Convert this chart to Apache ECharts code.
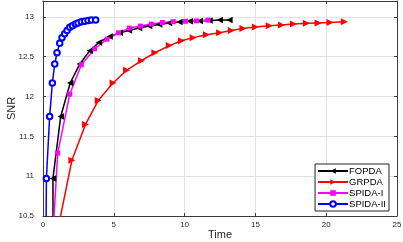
<!DOCTYPE html>
<html><head><meta charset="utf-8">
<script src="https://cdn.jsdelivr.net/npm/echarts@6/dist/echarts.min.js"></script>
<style>html,body{margin:0;padding:0;background:#fff}#c{width:403px;height:242px}</style>
</head><body><div id="c"></div>
<script>
const seriesNames = ['FOPDA', 'GRPDA', 'SPIDA-I', 'SPIDA-II'];
const xTicks = [0, 5, 10, 15, 20, 25];
const yTicks = [10.5, 11, 11.5, 12, 12.5, 13];

const fopdaX = [0.72, 0.70, 1.25, 1.92, 2.60, 3.30, 3.95, 4.70, 5.42, 6.07, 6.78, 7.49, 8.20, 8.90, 9.63, 10.36, 11.07, 11.76, 12.48, 13.16];
const fopdaY = [9.5, 10.97, 11.75, 12.17, 12.41, 12.575, 12.68, 12.755, 12.80, 12.83, 12.86, 12.885, 12.905, 12.925, 12.935, 12.945, 12.95, 12.955, 12.96, 12.96];

const grpdaX = [0.9, 2.04, 3.0, 3.9, 4.95, 5.9, 6.95, 7.9, 8.92, 9.78, 10.6, 11.54, 12.47, 13.3, 14.12, 15.0, 15.98, 16.84, 17.68, 18.6, 19.43, 20.27, 21.28];
const grpdaY = [10.2, 11.2, 11.65, 11.95, 12.17, 12.33, 12.45, 12.55, 12.64, 12.70, 12.74, 12.775, 12.80, 12.83, 12.855, 12.875, 12.89, 12.90, 12.91, 12.92, 12.925, 12.93, 12.94];

const spida1X = [0.45, 1.04, 1.89, 2.71, 3.65, 4.52, 5.33, 6.09, 6.88, 7.65, 8.43, 9.2, 10.06, 10.84, 11.65];
const spida1Y = [9.5, 11.29, 12.03, 12.40, 12.60, 12.72, 12.80, 12.86, 12.885, 12.91, 12.93, 12.94, 12.945, 12.95, 12.96];

const spida2X = [0.18, 0.24, 0.47, 0.66, 0.83, 0.99, 1.18, 1.34, 1.53, 1.70, 1.89, 2.08, 2.29, 2.47, 2.71, 2.94, 3.18, 3.42, 3.72];
const spida2Y = [9.5, 10.97, 11.75, 12.17, 12.41, 12.55, 12.67, 12.74, 12.79, 12.83, 12.87, 12.89, 12.91, 12.925, 12.94, 12.946, 12.955, 12.96, 12.96];

const zip = (xs, ys) => xs.map((x, i) => [x, ys[i]]);
const font = 'Liberation Sans, Arial, sans-serif';
const axisCol = '#3a3a3a';

const chart = echarts.init(document.getElementById('c'), null, {renderer: 'canvas'});
const baseAxis = {
  axisLine: {show: true, onZero: false, lineStyle: {color: axisCol, width: 1}},
  axisTick: {show: true, inside: true, length: 3, lineStyle: {color: axisCol}},
  splitLine: {show: false}
};
chart.setOption({
  animation: false,
  grid: {left: 43, right: 6, top: 1, bottom: 26, containLabel: false, outerBoundsMode: 'none'},
  xAxis: [
    Object.assign({}, baseAxis, {
      type: 'value', min: xTicks[0], max: xTicks[xTicks.length - 1], interval: 5,
      name: 'Time', nameLocation: 'middle', nameGap: 13, nameMoveOverlap: false,
      nameTextStyle: {fontFamily: font, fontSize: 11, color: '#262626'},
      axisLabel: {fontFamily: font, fontSize: 8, color: '#262626', margin: 5},
      splitLine: {show: true, lineStyle: {color: '#e3e3e3', width: 1}}
    }),
    Object.assign({}, baseAxis, {
      type: 'value', position: 'top', min: 0, max: 25, interval: 5,
      axisLabel: {show: false}
    })
  ],
  yAxis: [
    Object.assign({}, baseAxis, {
      type: 'value', min: yTicks[0], max: 13.2, interval: 0.5,
      name: 'SNR', nameLocation: 'middle', nameGap: 26, nameMoveOverlap: false,
      nameTextStyle: {fontFamily: font, fontSize: 11, color: '#262626'},
      axisLabel: {fontFamily: font, fontSize: 8, color: '#262626', margin: 9, showMaxLabel: false},
      splitLine: {show: true, lineStyle: {color: '#e3e3e3', width: 1}}
    }),
    Object.assign({}, baseAxis, {
      type: 'value', position: 'right', min: 10.5, max: 13.2, interval: 0.5,
      axisLabel: {show: false}
    })
  ],
  legend: {
    orient: 'vertical', right: 14, bottom: 31,
    backgroundColor: '#fff', borderColor: '#222', borderWidth: 1,
    padding: [2, 3, 2, 2], itemGap: 1, itemWidth: 30, itemHeight: 7,
    textStyle: {fontFamily: font, fontSize: 9.5, color: '#000', padding: [0, 0, 0, -4]},
    data: seriesNames
  },
  series: [
    {name: seriesNames[0], type: 'line', data: zip(fopdaX, fopdaY), symbol: 'triangle', symbolRotate: 90, symbolSize: 6.5,
     lineStyle: {color: '#000', width: 1.5}, itemStyle: {color: '#000'}, clip: true},
    {name: seriesNames[1], type: 'line', data: zip(grpdaX, grpdaY), symbol: 'triangle', symbolRotate: -90, symbolSize: 7,
     lineStyle: {color: '#ff0000', width: 1.5}, itemStyle: {color: '#ff0000'}, clip: true},
    {name: seriesNames[2], type: 'line', data: zip(spida1X, spida1Y), symbol: 'rect', symbolSize: 5,
     lineStyle: {color: '#ff00ff', width: 1.5}, itemStyle: {color: '#ff00ff'}, clip: true},
    {name: seriesNames[3], type: 'line', data: zip(spida2X, spida2Y), symbol: 'emptyCircle', symbolSize: 5.5,
     lineStyle: {color: '#0000ff', width: 1.5}, itemStyle: {color: '#0000ff', borderWidth: 1.2}, clip: true}
  ]
});
</script></body></html>
